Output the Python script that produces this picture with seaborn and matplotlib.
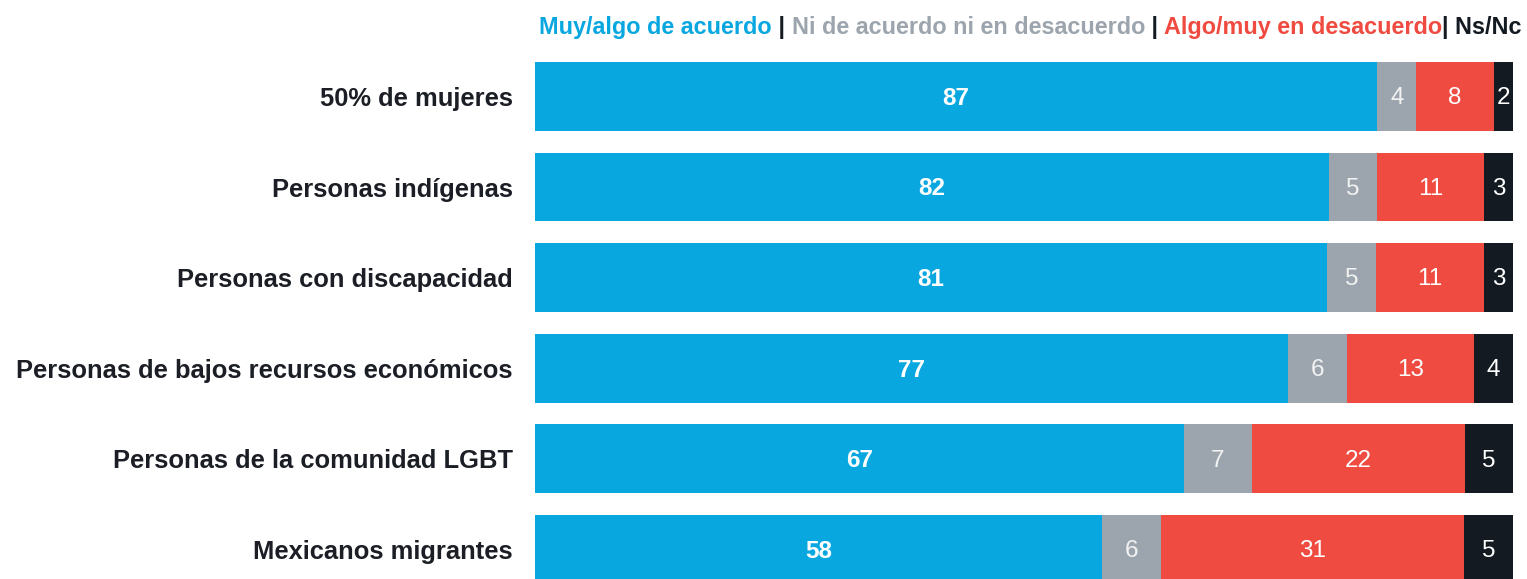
import numpy as np
import pandas as pd
import seaborn as sns
import matplotlib.pyplot as plt
from matplotlib.offsetbox import TextArea, HPacker, AnchoredOffsetbox

categories = ["50% de mujeres", "Personas indígenas", "Personas con discapacidad",
              "Personas de bajos recursos económicos", "Personas de la comunidad LGBT",
              "Mexicanos migrantes"]
acuerdo = [87, 82, 81, 77, 67, 58]
neutral = [4, 5, 5, 6, 7, 6]
desacuerdo = [8, 11, 11, 13, 22, 31]
nsnc = [2, 3, 3, 4, 5, 5]

series_names = ["Muy/algo de acuerdo", "Ni de acuerdo ni en desacuerdo",
                "Algo/muy en desacuerdo", "Ns/Nc"]
colors = ["#08a7e0", "#9ca5ad", "#ef4b40", "#141a21"]
label_colors = ["white", "#f2f2f2", "white", "white"]

sns.set_style("white")
plt.rcParams['font.family'] = ['Liberation Sans', 'DejaVu Sans']

vals = np.array([acuerdo, neutral, desacuerdo, nsnc], dtype=float)
shares = vals / vals.sum(axis=0) * 100  # rows fill the full width
cum = np.cumsum(shares, axis=0)

fig = plt.figure(figsize=(15.27, 5.79), dpi=100)
ax = fig.add_axes([535 / 1527, 0, (1513 - 535) / 1527, 1 - 62 / 579])

# draw from the full stack down so each segment sits on top of the next
for k in range(3, -1, -1):
    df = pd.DataFrame({"cat": categories, "val": cum[k]})
    sns.barplot(data=df, x="val", y="cat", color=colors[k], orient="h",
                width=0.76, saturation=1, ax=ax, edgecolor="none")

for i in range(len(categories)):
    for k in range(4):
        left = cum[k, i] - shares[k, i]
        ax.text(left + shares[k, i] / 2, i + 0.02, f"{int(vals[k, i])}",
                ha="center", va="center", color=label_colors[k],
                fontsize=17.5, fontweight="bold" if k == 0 else "normal")

ax.set_xlim(0, 100)
ax.set_ylim(5 + 29.5 / 90.6, -0.38)
ax.set_xlabel("")
ax.set_ylabel("")
ax.set_xticks([])
ax.tick_params(axis="y", length=0, pad=16)
for lab in ax.get_yticklabels():
    lab.set_fontsize(18.4)
    lab.set_fontweight("bold")
    lab.set_color("#1b1e25")
sns.despine(ax=ax, left=True, bottom=True)

# coloured legend line at the top right
parts = [(series_names[0], colors[0]), (" | ", colors[3]),
         (series_names[1], colors[1]), (" | ", colors[3]),
         (series_names[2], colors[2]), ("| " + series_names[3], colors[3])]
boxes = [TextArea(t, textprops=dict(color=c, fontsize=16.8, fontweight="bold"))
         for t, c in parts]
pack = HPacker(children=boxes, align="baseline", pad=0, sep=0)
anchored = AnchoredOffsetbox(loc="upper right", child=pack, pad=0, frameon=False,
                             bbox_to_anchor=(1522 / 1527, 1 - 16 / 579),
                             bbox_transform=fig.transFigure, borderpad=0)
fig.add_artist(anchored)

fig.savefig("out.png", dpi=100)
